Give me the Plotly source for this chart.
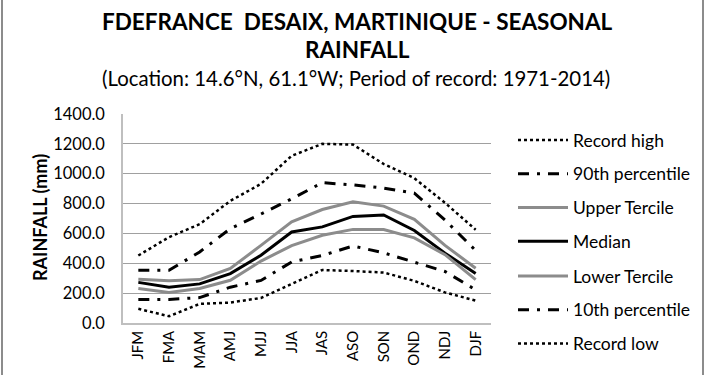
import plotly.graph_objects as go

seasons = ["JFM", "FMA", "MAM", "AMJ", "MJJ", "JJA", "JAS", "ASO", "SON", "OND", "NDJ", "DJF"]
record_high = [452, 575, 662, 818, 932, 1120, 1200, 1195, 1065, 970, 805, 625]
pct90 = [353, 353, 476, 632, 730, 832, 940, 925, 904, 870, 690, 485]
upper_tercile = [293, 283, 291, 365, 520, 678, 760, 812, 783, 695, 520, 367]
median = [272, 240, 262, 331, 454, 610, 644, 714, 724, 620, 468, 331]
lower_tercile = [231, 205, 231, 286, 415, 518, 588, 627, 626, 570, 458, 291]
pct10 = [158, 158, 170, 240, 285, 409, 452, 516, 470, 408, 345, 222]
record_low = [95, 45, 128, 137, 168, 264, 355, 348, 338, 282, 205, 150]

FONT = "Lato"
DASHDOT = "11px,8px,3px,8px"

series = [
    ("Record high", record_high, "black", 2.5, "dot", "legend"),
    ("90th percentile", pct90, "black", 3, DASHDOT, "legend"),
    ("Upper Tercile", upper_tercile, "#8c8c8c", 3, "solid", "legend"),
    ("Median", median, "black", 3, "solid", "legend"),
    ("Lower Tercile", lower_tercile, "#8c8c8c", 3, "solid", "legend2"),
    ("10th percentile", pct10, "black", 3, DASHDOT, "legend2"),
    ("Record low", record_low, "black", 2.5, "dot", "legend2"),
]

fig = go.Figure()
for i, (name, vals, color, width, dash, leg) in enumerate(series):
    fig.add_trace(go.Scatter(
        x=seasons, y=vals, mode="lines", name=name,
        legendgroup=f"g{i}", legend=leg,
        line=dict(color=color, width=width, dash=dash),
    ))

L, R, T, B = 123, 219, 114, 52
W, H = 710, 375
pw = W - L - R
ph = H - T - B

def px_x(px):
    return (px - L) / pw

def px_y(py):
    return (H - B - py) / ph

legend_common = dict(
    xanchor="left", yanchor="top",
    font=dict(family=FONT, size=17.5, color="black"),
    tracegroupgap=8, bgcolor="rgba(0,0,0,0)", itemwidth=50,
)

fig.update_layout(
    width=W, height=H,
    margin=dict(l=L, r=R, t=T, b=B, autoexpand=False),
    paper_bgcolor="white", plot_bgcolor="white",
    font=dict(family=FONT, color="black"),
    showlegend=True,
    legend=dict(x=px_x(513), y=px_y(122), **legend_common),
    legend2=dict(x=px_x(513), y=px_y(258), **legend_common),
    xaxis=dict(
        type="category", range=[-0.5, 11.5], tickangle=-90,
        showline=True, linecolor="#bfbfbf", linewidth=1.5,
        showgrid=False, ticks="", tickfont=dict(family=FONT, size=15, color="black"),
    ),
    yaxis=dict(
        range=[0, 1400], dtick=200, tickformat=".1f",
        showline=True, linecolor="#bfbfbf", linewidth=1.5,
        showgrid=True, gridcolor="#a0a0a0", gridwidth=1,
        ticks="", ticklabelstandoff=13,
        tickfont=dict(family=FONT, size=16.5, color="black"),
    ),
    annotations=[
        dict(text="<b>FDEFRANCE  DESAIX, MARTINIQUE - SEASONAL</b>", x=px_x(357), y=px_y(21),
             xref="paper", yref="paper", showarrow=False, xanchor="center", yanchor="middle",
             font=dict(family=FONT, size=22.5, color="black")),
        dict(text="<b>RAINFALL</b>", x=px_x(357), y=px_y(50),
             xref="paper", yref="paper", showarrow=False, xanchor="center", yanchor="middle",
             font=dict(family=FONT, size=22.5, color="black")),
        dict(text="(Location: 14.6°N, 61.1°W; Period of record: 1971-2014)", x=px_x(356), y=px_y(78),
             xref="paper", yref="paper", showarrow=False, xanchor="center", yanchor="middle",
             font=dict(family=FONT, size=20.4, color="black")),
        dict(text="<b>RAINFALL (mm)</b>", x=px_x(40), y=px_y(218), textangle=-90,
             xref="paper", yref="paper", showarrow=False, xanchor="center", yanchor="middle",
             font=dict(family=FONT, size=18, color="black")),
    ],
    shapes=[
        dict(type="line", xref="paper", yref="paper", x0=px_x(2), x1=px_x(2), y0=-1, y1=2,
             line=dict(color="#8c8c8c", width=2)),
        dict(type="line", xref="paper", yref="paper", x0=px_x(703), x1=px_x(703), y0=-1, y1=2,
             line=dict(color="#8c8c8c", width=2)),
    ],
)

fig.write_html("out.html", config={"displayModeBar": False},
               post_script="document.body.style.margin='0';")
